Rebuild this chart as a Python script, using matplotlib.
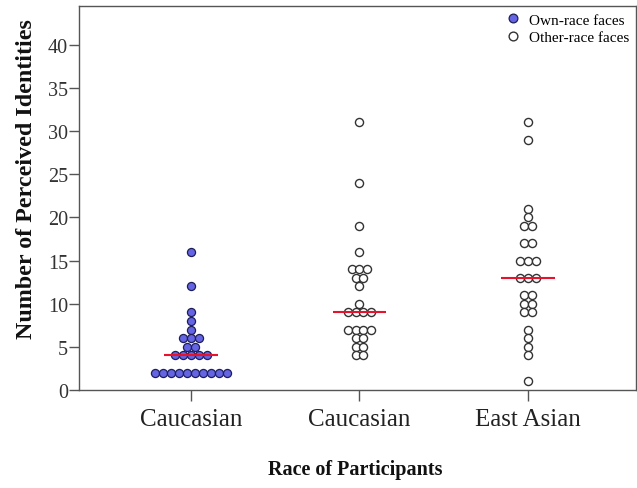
import numpy as np
import matplotlib
matplotlib.use("Agg")
import matplotlib.pyplot as plt
from matplotlib.lines import Line2D

# Data (one value per participant)
categories = ["Caucasian", "Caucasian", "East Asian"]
own_race_caucasian = [16, 12, 9, 8, 7, 6, 6, 6, 5, 5, 4, 4, 4, 4, 4,
                      2, 2, 2, 2, 2, 2, 2, 2, 2, 2]
other_race_caucasian = [31, 24, 19, 16, 14, 14, 14, 13, 13, 12, 10, 9, 9, 9, 9,
                        7, 7, 7, 7, 6, 6, 5, 5, 4, 4]
other_race_eastasian = [31, 29, 21, 20, 19, 19, 17, 17, 15, 15, 15, 13, 13, 13,
                        11, 11, 10, 10, 9, 9, 7, 6, 5, 4, 1]
medians = [4, 9, 13]

plt.rcParams['font.family'] = ['Liberation Serif', 'DejaVu Serif']

fig = plt.figure(figsize=(6.37, 4.89), dpi=100)
ax = fig.add_axes([0.124, 0.2004, 0.874, 0.7853])


def swarm_x(center, values, step=0.047):
    # put equal values side by side, centred on the category
    values = np.asarray(values)
    xs = np.zeros(len(values), dtype=float)
    for v in np.unique(values):
        idx = np.where(values == v)[0]
        n = len(idx)
        offs = (np.arange(n) - (n - 1) / 2.0) * step
        xs[idx] = center + offs
    return xs


groups = [own_race_caucasian, other_race_caucasian, other_race_eastasian]
for i, vals in enumerate(groups):
    x = swarm_x(i + 1, vals)
    if i == 0:
        ax.scatter(x, vals, s=34, facecolor='#6464e4', edgecolor='#1e1e5a',
                   linewidth=0.9, zorder=3)
    else:
        ax.scatter(x, vals, s=34, facecolor='white', edgecolor='#333333',
                   linewidth=1.0, zorder=3)
    ax.hlines(medians[i], i + 1 - 0.16, i + 1 + 0.16, color='#e8122c',
              linewidth=1.5, zorder=4)

ax.set_xlim(0.335, 3.64)
ax.set_ylim(0, 44.5)
ax.set_yticks(np.arange(0, 45, 5))
ax.set_xticks([1, 2, 3])
ax.set_xticklabels(categories, fontsize=18, color='#222222')
ax.tick_params(axis='y', labelsize=14.5, length=7, width=1, color='#555555',
               labelcolor='#333333', pad=1)
ax.tick_params(axis='x', length=8, width=1, color='#555555', pad=5)
for sp in ax.spines.values():
    sp.set_color('#555555')
    sp.set_linewidth(1.0)

ax.set_ylabel('Number of Perceived Identities', fontsize=17.3, fontweight='bold',
              color='#111111')
ax.yaxis.set_label_coords(-0.076, 0.552)
fig.text(0.557, 0.039, 'Race of Participants', fontsize=14.5,
         fontweight='bold', color='#111111', ha='center', va='center')

handles = [
    Line2D([], [], linestyle='none', marker='o', markersize=6.3,
           markerfacecolor='#6464e4', markeredgecolor='#1e1e5a',
           markeredgewidth=0.9, label='Own-race faces'),
    Line2D([], [], linestyle='none', marker='o', markersize=6.3,
           markerfacecolor='white', markeredgecolor='#333333',
           markeredgewidth=1.0, label='Other-race faces'),
]
ax.legend(handles=handles, loc='upper right', frameon=False, fontsize=11,
          handletextpad=0.5, handlelength=1.0, labelspacing=0.25,
          borderaxespad=0.35, borderpad=0.1)

fig.savefig('out.png', dpi=100)
